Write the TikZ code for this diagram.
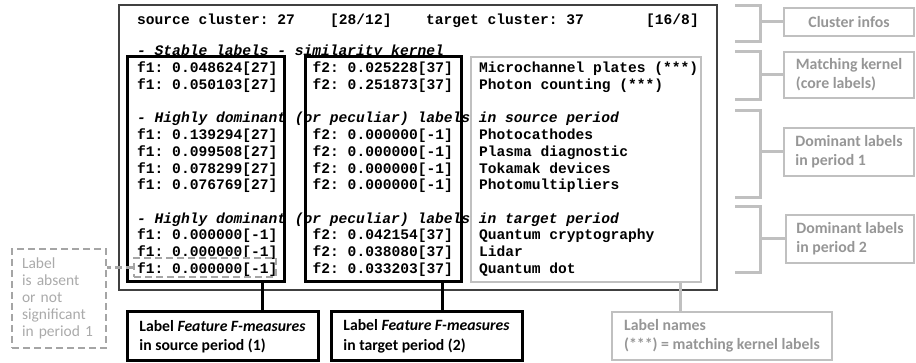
\documentclass[tikz,border=0pt]{standalone}
\usepackage{fontspec}
\newfontfamily\monof{Liberation Mono}
\newfontfamily\calf{Carlito}
\definecolor{lgray}{RGB}{192,192,192}
\definecolor{tgray}{RGB}{150,150,150}
\definecolor{ngray}{RGB}{170,170,170}
\definecolor{dgray}{RGB}{165,165,165}
\definecolor{framec}{RGB}{64,64,64}
\tikzset{
  mt/.style={font=\monof\bfseries\fontsize{14.6}{16.7}\selectfont\frenchspacing, inner sep=0pt, anchor=base west},
  mi/.style={font=\monof\bfseries\itshape\fontsize{14.6}{16.7}\selectfont\frenchspacing, inner sep=0pt, anchor=base west},
  colbox/.style={draw=black, line width=3pt, inner sep=0pt},
  graybox/.style={draw=lgray, line width=2.5pt, inner sep=0pt},
  rbox/.style={draw=lgray, line width=2.5pt, text=tgray, font=\calf\bfseries\fontsize{15.8}{19}\selectfont, align=left, inner sep=0pt},
  bbox/.style={draw=black, line width=3pt, font=\calf\bfseries\fontsize{15.7}{19.5}\selectfont, align=left, inner sep=0pt},
  dbox/.style={draw=dgray, line width=2.5pt, dash pattern=on 7pt off 4pt, inner sep=0pt},
  blkline/.style={draw=black, line width=3pt},
  grayline/.style={draw=lgray, line width=3pt},
  dline/.style={draw=dgray, line width=2.5pt, dash pattern=on 7pt off 4pt},
}
\begin{document}
\begin{tikzpicture}[x=1pt,y=-1pt]
\useasboundingbox (0,0) rectangle (916,363);
% main frame
\node[draw=framec, line width=1.3pt, minimum width=598pt, minimum height=285pt, inner sep=0pt] (main) at (418,147.5) {};
% header line
\node[mt] (h1) at (137,25) {source cluster: 27};
\node[mt] (h2) at (330,25) {[28/12]};
\node[mt] (h3) at (426,25) {target cluster: 37};
\node[mt] (h4) at (646,25) {[16/8]};
% stable labels
\node[mi] (s0) at (137,56) {- Stable labels - similarity kernel};
\node[mt] (s1a) at (137,73) {f1: 0.048624[27]};
\node[mt] (s1b) at (312.5,73) {f2: 0.025228[37]};
\node[mt] (s1c) at (479,73) {Microchannel plates (***)};
\node[mt] (s2a) at (137,89.7) {f1: 0.050103[27]};
\node[mt] (s2b) at (312.5,89.7) {f2: 0.251873[37]};
\node[mt] (s2c) at (479,89.7) {Photon counting (***)};
% source period
\node[mi] (p0) at (137,123) {- Highly dominant (or peculiar) labels in source period};
\node[mt] (p1a) at (137,139.8) {f1: 0.139294[27]};
\node[mt] (p1b) at (312.5,139.8) {f2: 0.000000[-1]};
\node[mt] (p1c) at (479,139.8) {Photocathodes};
\node[mt] (p2a) at (137,156.5) {f1: 0.099508[27]};
\node[mt] (p2b) at (312.5,156.5) {f2: 0.000000[-1]};
\node[mt] (p2c) at (479,156.5) {Plasma diagnostic};
\node[mt] (p3a) at (137,173.2) {f1: 0.078299[27]};
\node[mt] (p3b) at (312.5,173.2) {f2: 0.000000[-1]};
\node[mt] (p3c) at (479,173.2) {Tokamak devices};
\node[mt] (p4a) at (137,190) {f1: 0.076769[27]};
\node[mt] (p4b) at (312.5,190) {f2: 0.000000[-1]};
\node[mt] (p4c) at (479,190) {Photomultipliers};
% target period
\node[mi] (t0) at (137,223.3) {- Highly dominant (or peculiar) labels in target period};
\node[mt] (t1a) at (137,240) {f1: 0.000000[-1]};
\node[mt] (t1b) at (312.5,240) {f2: 0.042154[37]};
\node[mt] (t1c) at (479,240) {Quantum cryptography};
\node[mt] (t2a) at (137,256.7) {f1: 0.000000[-1]};
\node[mt] (t2b) at (312.5,256.7) {f2: 0.038080[37]};
\node[mt] (t2c) at (479,256.7) {Lidar};
\node[mt] (t3a) at (137,273.4) {f1: 0.000000[-1]};
\node[mt] (t3b) at (312.5,273.4) {f2: 0.033203[37]};
\node[mt] (t3c) at (479,273.4) {Quantum dot};
% column boxes
\node[colbox, minimum width=157pt, minimum height=225pt] (c1) at (205.5,169.5) {};
\node[colbox, minimum width=156pt, minimum height=225pt] (c2) at (383,169.5) {};
\node[graybox, minimum width=230pt, minimum height=225pt] (c3) at (586,169.5) {};
% small dashed box
\node[dbox, minimum width=142pt, minimum height=19pt] (ab) at (205,267.5) {};
% right boxes
\node[rbox, minimum width=130pt, minimum height=28pt] (ci) at (849,22) {Cluster infos};
\node[rbox, minimum width=130pt, minimum height=46pt] (mk) at (849,75) {Matching kernel\\(core labels)};
\node[rbox, minimum width=130pt, minimum height=48pt] (d1) at (849,152) {Dominant labels\\in period 1};
\node[rbox, minimum width=128pt, minimum height=48pt] (d2) at (850,239) {Dominant labels\\in period 2};
% bottom boxes
\node[bbox, minimum width=191pt, minimum height=49pt] (fa) at (222.5,336.5) {Label \textit{Feature F-measures}\\in source period (1)};
\node[bbox, minimum width=191pt, minimum height=49pt] (fb) at (426.5,336.5) {Label \textit{Feature F-measures}\\in target period (2)};
\node[rbox, minimum width=220pt, minimum height=48pt] (ln) at (722,336) {Label names\\(***) = matching kernel labels};
% absent box
\node[dbox, text=ngray, font=\calf\fontsize{15.5}{17}\selectfont, align=left, text width=74pt, inner xsep=10pt, minimum height=99pt] (nb) at (59,298.5) {Label\\is absent\\or not\\significant\\in period 1};
% connectors
\coordinate (k1) at (262,0);
\coordinate (k2) at (442,0);
\coordinate (k3) at (680,0);
\draw[blkline] (c1.south -| k1) -- (fa.north -| k1);
\draw[blkline] (c2.south -| k2) -- (fb.north -| k2);
\draw[grayline] (c3.south -| k3) -- (ln.north -| k3);
\draw[dline] (ab.west) -- (ab.west -| nb.east);
% brackets
\coordinate (bx) at (760,0);
\draw[grayline] (735,6) -- (760,6) -- (760,42) -- (735,42);
\draw[grayline] (ci.west -| bx) -- (ci.west);
\draw[grayline] (735,52) -- (760,52) -- (760,100) -- (735,100);
\draw[grayline] (mk.west -| bx) -- (mk.west);
\draw[grayline] (735,111) -- (760,111) -- (760,198) -- (735,198);
\draw[grayline] (d1.west -| bx) -- (d1.west);
\draw[grayline] (735,207) -- (760,207) -- (760,273) -- (735,273);
\draw[grayline] (d2.west -| bx) -- (d2.west);
\end{tikzpicture}
\end{document}
